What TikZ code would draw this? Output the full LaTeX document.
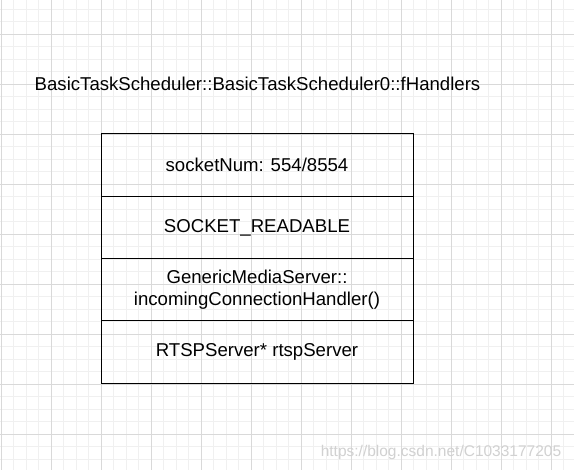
\documentclass[tikz,border=0pt]{standalone}
\usepackage{fontspec}
\setmainfont{Liberation Sans}
\begin{document}
\begin{tikzpicture}[x=1pt,y=-1pt,
  minorline/.style={draw=black!6,line width=0.8pt},
  majorline/.style={draw=black!15,line width=0.8pt},
  cell/.style={draw=black,line width=1pt,minimum width=312pt,minimum height=62.25pt,inner sep=0pt,outer sep=0pt,align=center,font=\fontsize{18.6}{22}\selectfont},
  title/.style={font=\fontsize{18.6}{22}\selectfont,inner sep=0pt},
  wm/.style={font=\fontsize{15.5}{18}\selectfont,text=black!18,inner sep=0pt}]
\useasboundingbox (0,0) rectangle (574,470);
\fill[white] (0,0) rectangle (574,470);
% minor grid
\foreach \i in {0,...,46} {
  \draw[minorline] ({1+12.5*\i},0) -- ({1+12.5*\i},470);
}
\foreach \j in {0,...,38} {
  \draw[minorline] (0,{9+12.5*\j}) -- (574,{9+12.5*\j});
}
% major grid
\foreach \i in {0,...,11} {
  \draw[majorline] ({1+50*\i},0) -- ({1+50*\i},470);
}
\foreach \j in {0,...,9} {
  \draw[majorline] (0,{34+50*\j}) -- (574,{34+50*\j});
}
\node[title] (t) at (257.5,84) {BasicTaskScheduler::BasicTaskScheduler0::fHandlers};
\node[cell] (c1) at (257,165.1) {socketNum: 554/8554};
\node[cell] (c2) at (257,227.4) {SOCKET\_READABLE};
\node[cell] (c3) at (257,289.6) {GenericMediaServer::\\incomingConnectionHandler()};
\node[cell] (c4) at (257,351.9) {RTSPServer* rtspServer};
\node[wm] (w) at (441,452) {https://blog.csdn.net/C1033177205};
\end{tikzpicture}
\end{document}
